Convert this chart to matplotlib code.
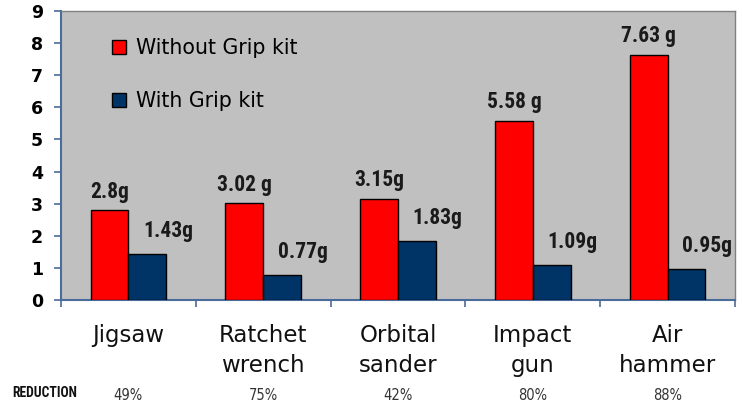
import matplotlib
matplotlib.use("Agg")
import matplotlib.pyplot as plt
from matplotlib.patches import Patch
import numpy as np

categories = ["Jigsaw", "Ratchet\nwrench", "Orbital\nsander", "Impact\ngun", "Air\nhammer"]
without_kit = [2.8, 3.02, 3.15, 5.58, 7.63]
with_kit = [1.43, 0.77, 1.83, 1.09, 0.95]
without_labels = ["2.8g", "3.02 g", "3.15g", "5.58 g", "7.63 g"]
with_labels = ["1.43g", "0.77g", "1.83g", "1.09g", "0.95g"]
reductions = ["49%", "75%", "42%", "80%", "88%"]
yticks = list(range(0, 10))

fig = plt.figure(figsize=(7.42, 4.04), dpi=100)
ax = fig.add_axes([61/742, 1 - 300/404, (735-61)/742, (300-11)/404])
ax.set_facecolor("#c0c0c0")

x = np.arange(len(categories))
w = 0.28
red = "#ff0000"
blue = "#003366"
ax.bar(x - w/2, without_kit, w, color=red, edgecolor="black", linewidth=1, zorder=3)
ax.bar(x + w/2, with_kit, w, color=blue, edgecolor="black", linewidth=1, zorder=3)

narrow = ["Roboto Condensed", "DejaVu Sans"]
for xi, v, lab in zip(x, without_kit, without_labels):
    ax.annotate(lab, (xi - w/2, v), xytext=(0, 9), textcoords="offset points",
                ha="center", va="baseline", fontsize=15.5, fontweight="bold",
                family=narrow, color="#1a1a1a")
for xi, v, lab in zip(x, with_kit, with_labels):
    ax.annotate(lab, (xi + w/2, v), xytext=(15, 12.5), textcoords="offset points",
                ha="center", va="baseline", fontsize=15.5, fontweight="bold",
                family=narrow, color="#1a1a1a")

ax.set_xlim(-0.5, len(categories) - 0.5)
ax.set_ylim(0, 9)
ax.set_yticks(yticks)
ax.set_yticklabels([str(t) for t in yticks], fontsize=12.5, fontweight="bold",
                   family="DejaVu Sans")
ax.set_xticks(x)
ax.set_xticklabels(categories, fontsize=16.5, family="DejaVu Sans",
                   linespacing=1.42, color="#111111")
ax.set_xticks(np.arange(-0.5, len(categories)), minor=True)
ax.tick_params(axis="x", which="major", length=0, pad=17)
ax.tick_params(axis="x", which="minor", length=5, width=1.2, color="#4a6c9b")
ax.tick_params(axis="y", length=5, width=1.2, color="#4a6c9b", pad=8)

for s in ["left", "bottom"]:
    ax.spines[s].set_color("#4a6c9b")
    ax.spines[s].set_linewidth(1.5)
for s in ["top", "right"]:
    ax.spines[s].set_color("#808080")
    ax.spines[s].set_linewidth(1)

handles = [Patch(facecolor=red, edgecolor="black", label="Without Grip kit"),
           Patch(facecolor=blue, edgecolor="black", label="With Grip kit")]
ax.legend(handles=handles, loc="upper left", bbox_to_anchor=(0.0757, 0.905),
          frameon=False, borderpad=0, borderaxespad=0,
          handlelength=0.7, handleheight=0.7,
          handletextpad=0.45, labelspacing=1.6,
          prop={"family": "DejaVu Sans", "size": 14.8})

fig.text(12/742, 1 - 393/404, "REDUCTION", ha="left", va="center",
         fontsize=9.8, fontweight="bold", family=narrow, color="#111111")
for xi, r in zip(x, reductions):
    xd = ax.transData.transform((xi, 0))[0]
    fig.text(xd / fig.bbox.width, 1 - 395/404, r, ha="center", va="center",
             fontsize=10.5, family="DejaVu Sans", fontstretch="condensed",
             color="#333333")

fig.savefig("out.png", dpi=100)
